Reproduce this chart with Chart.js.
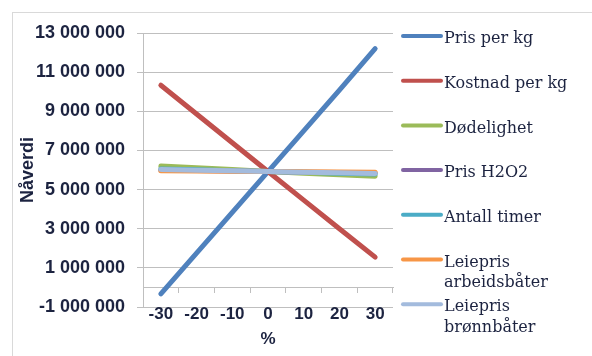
<!DOCTYPE html>
<html>
<head>
<meta charset="utf-8">
<script src="https://cdn.jsdelivr.net/npm/chart.js@4.4.1/dist/chart.umd.min.js"></script>
<style>
  html, body { margin: 0; padding: 0; background: #fff; }
</style>
</head>
<body>
<canvas id="nv" width="592" height="356"></canvas>
<script>
// x categories (% change) and one array per sensitivity series
const categories = ['-30', '-20', '-10', '0', '10', '20', '30'];
const seriesNames = ['Pris per kg', 'Kostnad per kg', 'Dødelighet', 'Pris H2O2',
                     'Antall timer', 'Leiepris arbeidsbåter', 'Leiepris brønnbåter'];
const prisPerKg      = [-330000, 1750000, 3840000, 5920000, 8000000, 10080000, 12200000];
const kostnadPerKg   = [10330000, 8860000, 7390000, 5920000, 4460000, 3000000, 1550000];
const dodelighet     = [6200000, 6110000, 6020000, 5920000, 5840000, 5760000, 5680000];
const prisH2O2       = [6000000, 5970000, 5950000, 5920000, 5890000, 5870000, 5840000];
const antallTimer    = [6050000, 6010000, 5960000, 5920000, 5880000, 5840000, 5800000];
const leieArbeid     = [5960000, 5950000, 5930000, 5920000, 5910000, 5900000, 5890000];
const leieBronn      = [6030000, 5990000, 5960000, 5920000, 5890000, 5860000, 5820000];
const yTicks = [-1000000, 1000000, 3000000, 5000000, 7000000, 9000000, 11000000, 13000000];

const colors = ['#4F81BD', '#C0504D', '#9BBB59', '#8064A2', '#4BACC6', '#F79646', '#A3BBDD'];
const textColor = '#1c2340';
const gridColor = '#BFBFBF';

function fmt(v) {
    return String(v).replace(/\B(?=(\d{3})+(?!\d))/g, ' ');
}

// frame around the whole chart
const framePlugin = {
    id: 'frame',
    beforeDraw(chart) {
        const ctx = chart.ctx;
        ctx.save();
        ctx.fillStyle = '#fff';
        ctx.fillRect(0, 0, chart.width, chart.height);
        ctx.strokeStyle = '#D9D9D9';
        ctx.lineWidth = 1;
        ctx.strokeRect(12.5, 12.5, 700, 500);
        ctx.restore();
    }
};

// legend on the right, wrapping long names like Excel does
const sideLegend = {
    id: 'sideLegend',
    afterDraw(chart) {
        const ctx = chart.ctx;
        ctx.save();
        ctx.font = '16px "DejaVu Serif"';
        ctx.textBaseline = 'middle';
        ctx.textAlign = 'left';
        chart.data.datasets.forEach((ds, i) => {
            const y = 36 + i * 44.7;
            ctx.strokeStyle = ds.borderColor;
            ctx.lineWidth = 4;
            ctx.lineCap = 'round';
            ctx.beginPath();
            ctx.moveTo(403, y);
            ctx.lineTo(441, y);
            ctx.stroke();

            // simple word wrap
            const words = ds.label.split(' ');
            const lines = [];
            let cur = '';
            words.forEach(w => {
                const test = cur ? cur + ' ' + w : w;
                if (cur && ctx.measureText(test).width > 140) {
                    lines.push(cur);
                    cur = w;
                } else {
                    cur = test;
                }
            });
            lines.push(cur);
            ctx.fillStyle = textColor;
            lines.forEach((ln, k) => ctx.fillText(ln, 444, y + 3 + k * 20.5));
        });
        ctx.restore();
    }
};

// Excel draws the last series on top
const datasets = [prisPerKg, kostnadPerKg, dodelighet, prisH2O2, antallTimer, leieArbeid, leieBronn]
    .map((d, i) => ({
        label: seriesNames[i],
        data: d,
        borderColor: colors[i],
        backgroundColor: colors[i],
        borderWidth: 5,
        borderCapStyle: 'round',
        borderJoinStyle: 'round',
        pointRadius: 0,
        tension: 0,
        order: 6 - i,
        xAxisID: 'x'
    }));

new Chart(document.getElementById('nv').getContext('2d'), {
    type: 'line',
    data: { labels: categories, datasets: datasets },
    options: {
        responsive: false,
        animation: false,
        layout: { padding: { left: 14, top: 33, right: 199, bottom: 6 } },
        plugins: {
            legend: { display: false },
            tooltip: { enabled: false }
        },
        scales: {
            x: {
                type: 'category',
                position: 'bottom',
                offset: true,
                grid: { display: false, drawTicks: false },
                border: { display: false },
                ticks: {
                    color: textColor,
                    font: { family: 'Liberation Sans', size: 17, weight: 'bold' },
                    padding: -3,
                    maxRotation: 0,
                    autoSkip: false
                },
                title: {
                    display: true,
                    text: '%',
                    color: textColor,
                    font: { family: 'Liberation Sans', size: 17, weight: 'bold' },
                    padding: 0
                },
                afterFit(s) { s.height = 43; }
            },
            // axis line crossing at zero, with tick marks between categories
            x0: {
                type: 'category',
                labels: categories,
                position: { y: 0 },
                offset: true,
                grid: {
                    offset: true,
                    drawOnChartArea: false,
                    drawTicks: true,
                    tickLength: 5,
                    color: gridColor
                },
                border: { display: true, color: gridColor, width: 1 },
                ticks: { display: false }
            },
            y: {
                min: -1000000,
                max: 13000000,
                afterBuildTicks(s) { s.ticks = yTicks.map(v => ({ value: v })); },
                grid: { color: gridColor, lineWidth: 1, tickLength: 6 },
                border: { color: gridColor },
                ticks: {
                    color: textColor,
                    font: { family: 'Liberation Sans', size: 18, weight: 'bold' },
                    padding: 12,
                    callback: v => fmt(v)
                },
                title: {
                    display: true,
                    text: 'Nåverdi',
                    color: textColor,
                    font: { family: 'Liberation Sans', size: 18, weight: 'bold' },
                    padding: { top: 3, bottom: 0 }
                },
                afterFit(s) { s.width = 129; }
            }
        }
    },
    plugins: [framePlugin, sideLegend]
});
</script>
</body>
</html>
